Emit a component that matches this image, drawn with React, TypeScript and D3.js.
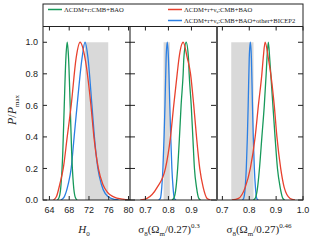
import { useEffect, useRef } from 'react';
import * as d3 from 'd3';

// axis ranges and ticks
const yTicks = [0, 0.2, 0.4, 0.6, 0.8, 1.0];
const h0Domain = [62.7, 80.3];
const s03Domain = [0.633, 1.011];
const s046Domain = [0.68, 1.0];
const h0Ticks = [64, 68, 72, 76, 80];
const s03Ticks = [0.7, 0.8, 0.9];
const s046Ticks = [0.7, 0.8, 0.9, 1.0];

// grey prior bands
const h0Band = [71.2, 75.9];
const s03Band = [0.779, 0.806];
const s046Band = [0.733, 0.816];

const legendLabels = ['ΛCDM+r:CMB+BAO', 'ΛCDM+r+ν_s:CMB+BAO', 'ΛCDM+r+ν_s:CMB+BAO+other+BICEP2'];
const colors = ['#17995a', '#e8412e', '#2b7fe3'];

// [x, P/Pmax]
const h0Green = [[65.6, 0], [66.0, 0.02], [66.35, 0.1], [66.7, 0.3], [67.0, 0.6], [67.33, 0.9], [67.6, 1], [67.87, 0.9], [68.2, 0.6], [68.5, 0.3], [68.85, 0.1], [69.2, 0.02], [69.6, 0]];
const h0Red = [[64.8, 0], [65.4, 0.02], [66.1, 0.1], [66.8, 0.2], [67.6, 0.4], [68.4, 0.6], [69.4, 0.9], [70.2, 1], [71.2, 0.9], [72.4, 0.6], [73.0, 0.4], [73.9, 0.2], [74.8, 0.1], [75.7, 0.05], [77.0, 0.02], [78.8, 0.005], [80.3, 0]];
const h0Blue = [[66.3, 0], [67.0, 0.02], [67.8, 0.1], [68.4, 0.2], [69.0, 0.4], [69.6, 0.6], [70.6, 0.9], [71.2, 1], [71.8, 0.9], [72.6, 0.6], [73.1, 0.4], [73.8, 0.2], [74.5, 0.1], [75.3, 0.04], [76.5, 0.01], [78.0, 0]];

const s03Green = [[0.815, 0], [0.823, 0.01], [0.833, 0.08], [0.840, 0.2], [0.848, 0.4], [0.855, 0.6], [0.864, 0.8], [0.867, 0.9], [0.877, 1], [0.887, 0.9], [0.890, 0.8], [0.899, 0.6], [0.906, 0.4], [0.913, 0.2], [0.922, 0.08], [0.932, 0.01], [0.940, 0]];
const s03Red = [[0.678, 0], [0.707, 0.01], [0.751, 0.08], [0.787, 0.2], [0.809, 0.4], [0.823, 0.6], [0.838, 0.8], [0.846, 0.9], [0.864, 1], [0.882, 0.9], [0.896, 0.8], [0.910, 0.6], [0.922, 0.4], [0.936, 0.2], [0.951, 0.08], [0.968, 0.01], [0.983, 0]];
const s03Blue = [[0.757, 0], [0.765, 0.01], [0.771, 0.08], [0.776, 0.2], [0.781, 0.4], [0.785, 0.6], [0.790, 0.9], [0.795, 1], [0.800, 0.9], [0.806, 0.6], [0.810, 0.4], [0.815, 0.2], [0.820, 0.08], [0.826, 0.01], [0.833, 0]];

const s046Green = [[0.815, 0], [0.822, 0.01], [0.831, 0.08], [0.838, 0.2], [0.847, 0.4], [0.856, 0.6], [0.863, 0.8], [0.866, 0.9], [0.871, 1], [0.876, 0.9], [0.880, 0.8], [0.888, 0.6], [0.896, 0.4], [0.905, 0.2], [0.915, 0.08], [0.925, 0.01], [0.932, 0]];
const s046Red = [[0.736, 0], [0.760, 0.01], [0.785, 0.08], [0.804, 0.2], [0.822, 0.4], [0.834, 0.6], [0.847, 0.8], [0.852, 0.9], [0.859, 1], [0.871, 0.9], [0.880, 0.8], [0.893, 0.6], [0.903, 0.4], [0.917, 0.2], [0.930, 0.08], [0.952, 0.01], [0.970, 0]];
const s046Blue = [[0.774, 0], [0.779, 0.01], [0.785, 0.08], [0.789, 0.2], [0.793, 0.4], [0.796, 0.6], [0.800, 0.9], [0.804, 1], [0.808, 0.9], [0.812, 0.6], [0.815, 0.4], [0.819, 0.2], [0.823, 0.08], [0.828, 0.01], [0.834, 0]];

export default function App() {
  const svgRef = useRef<SVGSVGElement>(null);

  useEffect(() => {
    const svg = d3.select(svgRef.current);
    svg.selectAll('*').remove();

    const top = 4;
    const plotTop = 26.5;
    const bottom = 200;
    const serif = 'Liberation Serif, Times New Roman, serif';
    const sans = 'Liberation Sans, Arial, sans-serif';

    const y = d3.scaleLinear().domain([0, 1.1]).range([bottom, plotTop]);

    const panels = [
      { domain: h0Domain, x0: 43, x1: 130, ticks: h0Ticks, band: h0Band, curves: [h0Blue, h0Green, h0Red], fmt: d3.format('d') },
      { domain: s03Domain, x0: 130, x1: 217, ticks: s03Ticks, band: s03Band, curves: [s03Blue, s03Green, s03Red], fmt: d3.format('.1f') },
      { domain: s046Domain, x0: 217, x1: 303, ticks: s046Ticks, band: s046Band, curves: [s046Blue, s046Green, s046Red], fmt: d3.format('.1f') },
    ];
    const curveColors = [colors[2], colors[0], colors[1]];

    const defs = svg.append('defs');

    panels.forEach((p, i) => {
      const x = d3.scaleLinear().domain(p.domain).range([p.x0, p.x1]);
      defs.append('clipPath').attr('id', `clip-${i}`)
        .append('rect')
        .attr('x', p.x0).attr('y', plotTop)
        .attr('width', p.x1 - p.x0).attr('height', bottom - plotTop);

      const g = svg.append('g').attr('clip-path', `url(#clip-${i})`);

      g.append('rect')
        .attr('x', x(p.band[0]))
        .attr('y', y(1))
        .attr('width', x(p.band[1]) - x(p.band[0]))
        .attr('height', y(0) - y(1))
        .attr('fill', '#d9d9d9');

      const line = d3.line<number[]>()
        .x(d => x(d[0]))
        .y(d => y(d[1]))
        .curve(d3.curveMonotoneX);

      g.selectAll('path.curve')
        .data(p.curves)
        .join('path')
        .attr('class', 'curve')
        .attr('d', d => line(d))
        .attr('fill', 'none')
        .attr('stroke', (d, j) => curveColors[j])
        .attr('stroke-width', 1.3);

      // x ticks top and bottom, pointing in
      svg.append('g').selectAll('line')
        .data(p.ticks)
        .join('line')
        .attr('x1', d => x(d)).attr('x2', d => x(d))
        .attr('y1', bottom).attr('y2', bottom - 4)
        .attr('stroke', '#222');
      svg.append('g').selectAll('line')
        .data(p.ticks)
        .join('line')
        .attr('x1', d => x(d)).attr('x2', d => x(d))
        .attr('y1', plotTop).attr('y2', plotTop + 4)
        .attr('stroke', '#222');

      svg.append('g').selectAll('text')
        .data(p.ticks)
        .join('text')
        .attr('x', d => x(d))
        .attr('y', 213)
        .attr('text-anchor', 'middle')
        .attr('font-family', sans)
        .attr('font-size', 9)
        .attr('fill', '#222')
        .text(d => p.fmt(d));
    });

    // y ticks on the panel edges
    const yTickSets = [
      { x: 43, len: 4 },
      { x: 130, len: -5 },
      { x: 130, len: 5 },
      { x: 217, len: -6 },
      { x: 303, len: -5 },
    ];
    yTickSets.forEach(t => {
      svg.append('g').selectAll('line')
        .data(yTicks)
        .join('line')
        .attr('x1', t.x).attr('x2', t.x + t.len)
        .attr('y1', d => y(d)).attr('y2', d => y(d))
        .attr('stroke', '#222');
    });

    svg.append('g').selectAll('text')
      .data(yTicks)
      .join('text')
      .attr('x', 38)
      .attr('y', d => y(d))
      .attr('dy', '0.35em')
      .attr('text-anchor', 'end')
      .attr('font-family', sans)
      .attr('font-size', 9)
      .attr('fill', '#222')
      .text(d => d3.format('.1f')(d));

    // frame
    svg.append('rect')
      .attr('x', 43).attr('y', top)
      .attr('width', 260).attr('height', bottom - top)
      .attr('fill', 'none').attr('stroke', '#222');
    svg.append('line')
      .attr('x1', 43).attr('x2', 303)
      .attr('y1', plotTop).attr('y2', plotTop)
      .attr('stroke', '#222');
    svg.append('line')
      .attr('x1', 130).attr('x2', 130)
      .attr('y1', plotTop).attr('y2', bottom)
      .attr('stroke', '#111');
    svg.append('line')
      .attr('x1', 217).attr('x2', 217)
      .attr('y1', plotTop).attr('y2', bottom)
      .attr('stroke', '#555').attr('stroke-width', 2);

    // legend
    const legendPos = [[48, 9.5], [168, 9.5], [168, 20.5]];
    legendLabels.forEach((label, i) => {
      const [lx, ly] = legendPos[i];
      svg.append('line')
        .attr('x1', lx).attr('x2', lx + 14)
        .attr('y1', ly).attr('y2', ly)
        .attr('stroke', colors[i]).attr('stroke-width', 1.5);
      const t = svg.append('text')
        .attr('x', lx + 16).attr('y', ly + 2.3)
        .attr('font-family', serif)
        .attr('font-size', 6.6)
        .attr('fill', '#222');
      const parts = label.split('_s');
      t.append('tspan').text(parts[0]);
      if (parts.length > 1) {
        t.append('tspan').attr('font-size', 4.5).attr('dy', 1.5).text('s');
        t.append('tspan').attr('dy', -1.5).text(parts[1]);
      }
    });

    // axis titles
    const h0 = svg.append('text')
      .attr('x', 84).attr('y', 233)
      .attr('text-anchor', 'middle')
      .attr('font-family', serif).attr('font-size', 11).attr('fill', '#222');
    h0.append('tspan').attr('font-style', 'italic').text('H');
    h0.append('tspan').attr('font-size', 7).attr('dy', 2.5).text('0');

    const sigmaTitle = (cx: number, power: string) => {
      const t = svg.append('text')
        .attr('x', cx).attr('y', 233)
        .attr('text-anchor', 'middle')
        .attr('font-family', serif).attr('font-size', 11).attr('fill', '#222');
      t.append('tspan').text('σ');
      t.append('tspan').attr('font-size', 7).attr('dy', 2.5).text('8');
      t.append('tspan').attr('dy', -2.5).text('(Ω');
      t.append('tspan').attr('font-size', 7).attr('dy', 2.5).text('m');
      t.append('tspan').attr('dy', -2.5).text('/0.27)');
      t.append('tspan').attr('font-size', 7).attr('dy', -5).text(power);
    };
    sigmaTitle(169, '0.3');
    sigmaTitle(259, '0.46');

    const yt = svg.append('text')
      .attr('transform', 'translate(16,110) rotate(-90)')
      .attr('text-anchor', 'middle')
      .attr('font-family', serif).attr('font-size', 12).attr('fill', '#222');
    yt.append('tspan').attr('font-style', 'italic').text('P');
    yt.append('tspan').text('/');
    yt.append('tspan').attr('font-style', 'italic').text('P');
    yt.append('tspan').attr('font-size', 7).attr('dy', 2.5).text('max');
  }, []);

  return (
    <svg
      ref={svgRef}
      width={320}
      height={240}
      style={{ position: 'absolute', left: 0, top: 0, background: '#fff' }}
    />
  );
}
